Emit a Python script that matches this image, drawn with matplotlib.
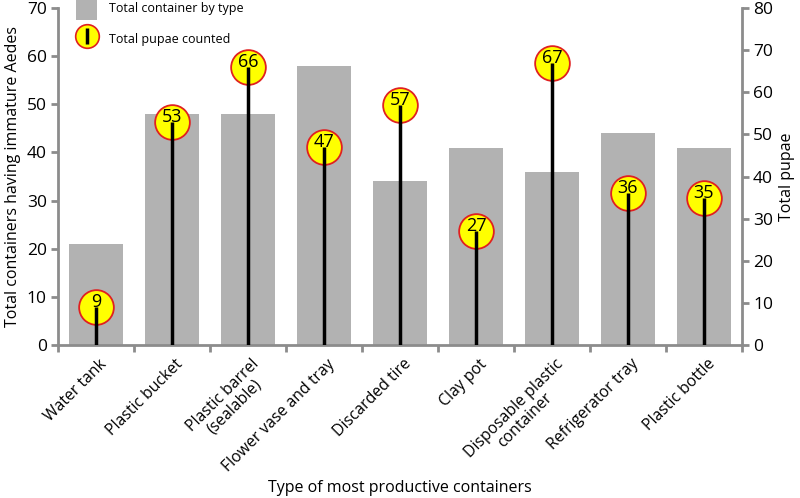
import matplotlib.pyplot as plt
from matplotlib.lines import Line2D
from matplotlib.patches import Patch
from matplotlib.transforms import ScaledTranslation

plt.rcParams['font.family'] = ['Open Sans', 'DejaVu Sans']

categories = [
    "Water tank",
    "Plastic bucket",
    "Plastic barrel\n(sealable)",
    "Flower vase and tray",
    "Discarded tire",
    "Clay pot",
    "Disposable plastic\ncontainer",
    "Refrigerator tray",
    "Plastic bottle",
]
containers = [21, 48, 48, 58, 34, 41, 36, 44, 41]
pupae = [9, 53, 66, 47, 57, 27, 67, 36, 35]

GRAY = "#b2b2b2"
SPINE = "#8c8c8c"

fig = plt.figure(figsize=(8, 4.98), dpi=100)
ax = fig.add_axes([0.0725, 0.307, 0.855, 0.677])
ax2 = ax.twinx()

x = list(range(len(categories)))
ax.bar(x, containers, width=0.7, color=GRAY, zorder=1)
ax.set_xlim(-0.5, len(categories) - 0.5)
ax.set_ylim(0, 70)
ax.set_yticks(range(0, 71, 10))
ax.set_ylabel("Total containers having immature Aedes", fontsize=11.5, labelpad=4)

ax2.set_ylim(0, 80)
ax2.set_yticks(range(0, 81, 10))
ax2.set_ylabel("Total pupae", fontsize=11.5, labelpad=4)

# lollipops on the right axis: circle first, stick drawn over it, then the number
for xi, p in zip(x, pupae):
    ax2.plot(xi, p, marker="o", markersize=25, markerfacecolor="#ffff00",
             markeredgecolor="#e02020", markeredgewidth=1.3, zorder=3)
    ax2.plot([xi, xi], [0, p], color="black", lw=2.5, zorder=4, solid_capstyle="butt")
    ax2.text(xi, p + 1.2, str(p), ha="center", va="center", fontsize=13, zorder=5)

# x ticks at category boundaries; category names placed as rotated texts
ax.set_xticks([i - 0.5 for i in range(len(categories) + 1)])
ax.set_xticklabels([])
ax.tick_params(axis="x", which="major", length=5, width=2, color=SPINE)
label_tr = ax.get_xaxis_transform() + ScaledTranslation(2 / 72, -8 / 72, fig.dpi_scale_trans)
for xi, name in zip(x, categories):
    ax.text(xi, 0, name, transform=label_tr, rotation=45, ha="right", va="top",
            rotation_mode="anchor", fontsize=11.3, multialignment="center",
            linespacing=1.0)
ax.set_xlabel("Type of most productive containers", fontsize=11.5)
ax.xaxis.set_label_coords(0.5, -0.425)
ax.xaxis.label.set_va("center")

for a in (ax, ax2):
    a.spines["top"].set_visible(False)
    for s in ("left", "right", "bottom"):
        a.spines[s].set_color(SPINE)
        a.spines[s].set_linewidth(2)
    a.tick_params(axis="y", length=5, width=2, color=SPINE, labelsize=12.5, pad=3)
ax.spines["right"].set_visible(False)
ax2.spines["left"].set_visible(False)
ax2.spines["bottom"].set_visible(False)

handles = [
    Patch(facecolor=GRAY, edgecolor="none"),
    (Line2D([], [], marker="o", markersize=17, markerfacecolor="#ffff00",
            markeredgecolor="#e02020", markeredgewidth=1.2, linestyle="none"),
     Line2D([], [], marker="|", markersize=12, markeredgewidth=2.5,
            color="black", linestyle="none")),
]
ax2.legend(handles, ["Total container by type", "Total pupae counted"],
           loc="upper left", bbox_to_anchor=(0.01, 1.065), frameon=False,
           fontsize=9, handlelength=1.7, handleheight=2.4,
           labelspacing=0.65, handletextpad=0.9)

fig.savefig("out.png", dpi=100)
